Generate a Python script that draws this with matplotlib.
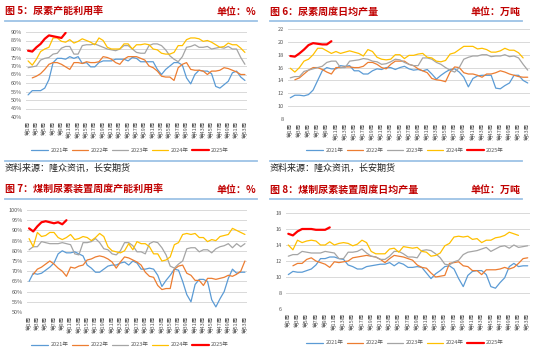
import matplotlib
matplotlib.use("Agg")
import matplotlib.pyplot as plt
from matplotlib.lines import Line2D

plt.rcParams['font.family'] = ['Noto Sans CJK SC', 'DejaVu Sans']

W, H = 550, 352

weeks = list(range(1, 54))
week_labels = [f"第{w}周" for w in range(1, 54, 2)]
years = ["2021年", "2022年", "2023年", "2024年", "2025年"]
colors = ["#5B9BD5", "#ED7D31", "#A5A5A5", "#FFC000", "#FF0000"]

# ── 图5 尿素产能利用率 (%) ─────────────────────────────────────────
u5_2021 = [53, 55.5, 55.5, 55.5, 57, 62, 72, 74.5, 74.5, 74, 75.5, 74.5, 75.5, 71.5, 72, 69.5, 69.5, 72,
           73, 73, 73, 74, 74, 74, 73, 75, 74.5, 72.5, 72.5, 72.5, 72.5, 68, 65, 68, 70, 72, 72, 70.5,
           63, 59.5, 65, 67.5, 67, 67, 65.5, 58, 57, 59, 61, 66, 67, 63.5, 61.5]
u5_2022 = [None, 63, 64, 65.5, 68, 71, 72, 72, 71, 69.5, 68, 72, 72, 71.5, 72.5, 72, 72, 72.5,
           75.5, 75, 74, 72, 71, 74, 75.5, 75.5, 75.5, 74.5, 73.5, 70, 69, 67, 64, 63.5, 63.5, 61.5,
           69, 71, 72, 68, 67.5, 67.5, 67, 65, 67, 67, 67.5, 69, 68.5, 67.5, 66.5, 65, 65]
u5_2023 = [69, 69.5, 70, 73.5, 74.5, 75, 77, 77.5, 80.5, 81.5, 81.5, 77, 77, 82, 82.5, 82.5, 83, 82,
           81, 80, 79.5, 79, 80, 82, 82, 80, 78, 77.5, 77.5, 82, 83, 83, 82, 79.5, 76, 74, 72.5,
           75.5, 81, 81.5, 82.5, 81, 81, 81.5, 80, 80.5, 81, 80.5, 81.5, 80, 80, 75, 71]
u5_2024 = [73, 70.5, 74, 78.5, 80, 81, 86.5, 86.5, 84.5, 84, 85.5, 83.5, 84.5, 86, 85, 84, 82.5,
           86.5, 85, 81, 80, 80, 80, 83, 83, 80, 82.5, 82.5, 83, 82.5, 80, 79.5, 77.5, 77, 77, 78,
           82, 82, 85.5, 86.5, 86.5, 86, 84.5, 85, 84, 82.5, 81, 81.5, 83.5, 82.5, 82.5, 80.5, 78]
u5_2025 = [79, 78.5, 81, 83, 86, 88, 87.5, 87, 86.5, 89.5]

# ── 图6 尿素周度日均产量 (万吨) ────────────────────────────────────
p6_2021 = [11.3, 11.7, 11.7, 11.6, 11.8, 12.5, 14, 15.5, 16, 15.8, 15.8, 16.3, 16.2, 16.3, 15.5,
           15.5, 15, 15, 15.5, 15.8, 15.7, 16, 16, 15.7, 16, 16.2, 15.8, 15.6, 15.7, 15.5, 15.7,
           15, 14.2, 14.8, 15.3, 15.7, 15.8, 15.3, 14.5, 13, 14.3, 14.7, 14.8, 14.8, 14.8, 12.8,
           12.7, 13.2, 13.6, 14.8, 14.8, 14, 13.6]
p6_2022 = [None, 14.1, 14.4, 15, 15.6, 16, 16, 15.7, 15.3, 15, 16, 16, 16.1, 16.1, 16, 16, 16.2,
           16.8, 16.8, 16.5, 16, 15.8, 16.5, 17, 17, 17, 16.5, 16.3, 15.8, 15.5, 15.2, 14.3, 14.1,
           14, 13.8, 15.3, 16.1, 16, 15.2, 15, 15, 14.8, 14.5, 15, 15, 15.2, 15.5, 15.3, 15, 14.8,
           14.6, 14.5, 14.5]
p6_2023 = [14.4, 14.6, 14.6, 15.4, 15.6, 15.8, 16, 16.2, 16.8, 17, 17, 16, 16, 17, 17.1, 17.2,
           17.4, 17.3, 17, 16.9, 16.5, 16.6, 16.9, 17.3, 17.2, 16.8, 16.5, 16.3, 16.3, 17.5, 17.5,
           17.3, 16.8, 16.5, 16, 15.6, 15.3, 16, 17.3, 17.6, 17.8, 17.8, 18, 18, 17.7, 17.8, 17.8,
           18, 17.7, 17.8, 17.5, 16.5, 15.6]
p6_2024 = [15.9, 15.3, 16, 17, 17.3, 18, 19, 19, 18.6, 18.2, 18.5, 18.2, 18.4, 18.6, 18.4, 18.2,
           17.8, 18.8, 18.5, 17.6, 17.3, 17.2, 17.3, 18, 18, 17.4, 17.9, 17.9, 18.1, 18.2, 17.6,
           17.5, 17, 16.9, 17.1, 18.1, 18.3, 18.8, 19.3, 19.3, 19.3, 18.9, 19, 18.8, 18.4, 18.4,
           18.6, 19, 18.7, 18.7, 18.3, 17.5]
p6_2025 = [17.8, 17.7, 18.2, 18.8, 19.5, 19.8, 19.7, 19.6, 19.6, 20.1]

# ── 图7 煤制尿素装置周度产能利用率 (%) ─────────────────────────────
u7_2021 = [65, 69, 68.5, 69, 70.5, 72, 74, 78.5, 80, 79, 79, 79.5, 78.5, 77.5, 73, 71.5, 69.5,
           69.5, 71, 72.5, 73, 73, 74, 74.5, 73, 75, 74, 71, 71, 71.5, 71, 68, 62.5, 65.5, 68, 71,
           70.5, 65, 58.5, 55, 63.5, 66, 66, 65, 56, 52.5, 56.5, 60, 66.5, 71, 69, 69.5, 69.5]
u7_2022 = [None, 68.5, 71, 72, 73.5, 75, 73.5, 71.5, 70, 67.5, 72, 71.5, 72.5, 73, 75.5, 76, 77,
           77.5, 77, 76, 74.5, 71.5, 74.5, 77, 76.5, 75.5, 74.5, 73, 69.5, 67.5, 67, 63, 61, 61.5,
           61.5, 71, 72.5, 73, 69, 68, 65.5, 65.5, 63, 66.5, 66.5, 66, 66.5, 67, 68, 67.5, 68.5,
           70, 75]
u7_2023 = [80.5, 82, 82, 84.5, 84, 83.5, 83.5, 83.5, 84, 83.5, 83, 78.5, 78, 84, 84, 84.5, 86, 84,
           81, 80.5, 78.5, 78, 80, 84, 84, 82.5, 79.5, 79.5, 78.5, 83.5, 84.5, 84, 81.5, 78, 72.5,
           71.5, 73.5, 75, 81, 81.5, 81.5, 79.5, 80.5, 80.5, 79, 81, 82, 82.5, 83.5, 81.5, 83.5,
           82, 83.5]
u7_2024 = [86, 82, 89, 87, 87.5, 89, 89, 86.5, 85.5, 86.5, 88, 85.5, 86, 87, 86.5, 85, 86.5, 88.5,
           87, 82, 80, 79.5, 79, 80, 83.5, 80.5, 84.5, 83.5, 83.5, 82, 78.5, 78.5, 75, 75.5, 77,
           83, 84, 88, 88.5, 88, 88.5, 86.5, 86.5, 84.5, 85.5, 85, 87, 87.5, 88, 91, 90, 89, 88]
u7_2025 = [91, 89.5, 92, 94, 94.5, 94, 93.5, 94, 93, 95]

# ── 图8 煤制尿素装置周度日均产量 (万吨) ────────────────────────────
p8_2021 = [10.3, 10.7, 10.6, 10.6, 10.8, 11, 11.5, 12.3, 12.3, 12.5, 12.5, 12.3, 12.2, 11.5, 11.3,
           11, 11, 11.3, 11.4, 11.5, 11.6, 11.6, 11.8, 11.4, 11.8, 11.6, 11.2, 11.2, 11.3, 11.2,
           10.5, 9.8, 10.4, 10.8, 11.3, 11.4, 11, 9.8, 8.8, 10.2, 10.7, 10.8, 10.8, 10.3, 8.8, 8.6,
           9.3, 9.9, 11.3, 11.7, 11.3, 11.4, 11.4]
p8_2022 = [None, 11.4, 11.7, 11.7, 12.2, 12.4, 12, 11.8, 11.6, 11.2, 11.9, 11.8, 11.9, 12, 12.4,
           12.5, 12.6, 12.7, 12.6, 12.5, 12.2, 11.8, 12.3, 12.7, 12.6, 12.5, 12.3, 12.1, 11.5,
           11.2, 11.1, 10.5, 10, 10.1, 10.2, 11.7, 11.8, 11.9, 11.4, 11.3, 10.8, 10.8, 10.3, 10.9,
           10.9, 10.9, 11, 11.2, 11, 11.2, 11.7, 12.3, 12.4]
p8_2023 = [12.6, 12.8, 12.8, 13.2, 13.1, 13, 13, 13, 13.2, 13.1, 13, 12.3, 12.3, 13.1, 13.1, 13.2,
           13.5, 13, 12.6, 12.5, 12.2, 12.2, 12.6, 13.2, 13.2, 12.9, 12.5, 12.5, 12.4, 13.3, 13.4,
           13.3, 12.9, 12.4, 11.6, 11.5, 11.9, 12.1, 12.8, 13.1, 13.2, 13.3, 13.5, 13.7, 13.2,
           13.5, 13.8, 13.9, 13.6, 14, 13.7, 13.8, 13.9]
p8_2024 = [14, 13.4, 14.6, 14.3, 14.5, 14.6, 14.5, 14, 14, 14.4, 14, 14.2, 14.3, 14.2, 13.9, 14.1,
           14.6, 14.3, 13.2, 12.9, 12.9, 12.9, 13.5, 13.6, 13.1, 13.8, 13.7, 13.6, 13.7, 13.2,
           13.1, 12.6, 12.7, 13, 13.9, 14.2, 15, 15.1, 15, 15.1, 14.7, 14.8, 14.3, 14.6, 14.6,
           14.9, 15, 15.2, 15.6, 15.4, 15.2]
p8_2025 = [15.4, 15.2, 15.7, 16, 16, 16, 15.9, 15.9, 15.9, 16.2]

panels = [
    dict(title="图 5：尿素产能利用率", unit="单位：%",
         data=[u5_2021, u5_2022, u5_2023, u5_2024, u5_2025],
         yticks=list(range(40, 95, 5)), fmt="{}%",
         x0=26, x1=247, ytop=32, ybot=117, tx=5, ty=12, line_y=21, leg=(130, 150)),
    dict(title="图 6：尿素周度日均产量", unit="单位：万吨",
         data=[p6_2021, p6_2022, p6_2023, p6_2024, p6_2025],
         yticks=list(range(8, 23, 2)), fmt="{}",
         x0=288, x1=530, ytop=29, ybot=119, tx=270, ty=12, line_y=21, leg=(405, 150)),
    dict(title="图 7：煤制尿素装置周度产能利用率", unit="单位：%",
         data=[u7_2021, u7_2022, u7_2023, u7_2024, u7_2025],
         yticks=list(range(50, 105, 5)), fmt="{}%",
         x0=27, x1=247, ytop=210, ybot=312, tx=5, ty=190, line_y=199, leg=(130, 345)),
    dict(title="图 8：煤制尿素装置周度日均产量", unit="单位：万吨",
         data=[p8_2021, p8_2022, p8_2023, p8_2024, p8_2025],
         yticks=list(range(6, 19, 2)), fmt="{}",
         x0=286, x1=530, ytop=213, ybot=309, tx=270, ty=190, line_y=199, leg=(405, 343)),
]

fig = plt.figure(figsize=(W / 100, H / 100), dpi=100)


def fx(px):
    return px / W


def fy(py):
    return 1 - py / H


for p in panels:
    ax = fig.add_axes([fx(p["x0"]), fy(p["ybot"]), fx(p["x1"] - p["x0"]), (p["ybot"] - p["ytop"]) / H])
    handles = []
    for vals, c, name in zip(p["data"], colors, years):
        xs = [w for w, v in zip(weeks, vals) if v is not None]
        ys = [v for v in vals if v is not None]
        lw = 1.6 if name == "2025年" else 0.9
        h, = ax.plot(xs, ys, color=c, lw=lw, solid_joinstyle="round", solid_capstyle="round", label=name)
        handles.append(h)
    ax.set_xlim(0.5, 53.5)
    ax.set_ylim(p["yticks"][0], p["yticks"][-1])
    ax.set_yticks(p["yticks"])
    ax.set_yticklabels([p["fmt"].format(t) for t in p["yticks"]], fontsize=4, color="#595959")
    ax.set_xticks(list(range(1, 54, 2)))
    ax.set_xticklabels(week_labels, rotation=90, fontsize=4, color="#595959")
    ax.tick_params(length=0, pad=3)
    ax.grid(axis="y", color="#D9D9D9", lw=0.7)
    ax.set_axisbelow(True)
    for s in ax.spines.values():
        s.set_visible(False)
    ax.legend(handles=handles, loc="center", bbox_to_anchor=(fx(p["leg"][0]), fy(p["leg"][1])),
              bbox_transform=fig.transFigure, ncol=5, frameon=False, fontsize=4,
              handlelength=3.0, columnspacing=0.6, handletextpad=0.4, labelcolor="#595959")

    # header
    fig.text(fx(p["tx"]), fy(p["ty"]), p["title"], color="#C00000", fontsize=7.2,
             fontweight="bold", ha="left", va="center")
    fig.text(fx(p["tx"] + 251), fy(p["ty"]), p["unit"], color="#C00000", fontsize=7.2,
             fontweight="bold", ha="right", va="center")
    fig.add_artist(Line2D([fx(p["tx"]), fx(p["tx"] + 252)], [fy(p["line_y"]), fy(p["line_y"])],
                          color="#9DC3E6", lw=1.3))

# bottom rules and source notes under the top row
for x in (5, 270):
    fig.add_artist(Line2D([fx(x), fx(x + 252)], [fy(161), fy(161)], color="#9DC3E6", lw=1.3))
    fig.text(fx(x), fy(168), "资料来源：隆众资讯，长安期货", color="#222222", fontsize=6.5,
             ha="left", va="center")

fig.savefig("out.png", dpi=100)
